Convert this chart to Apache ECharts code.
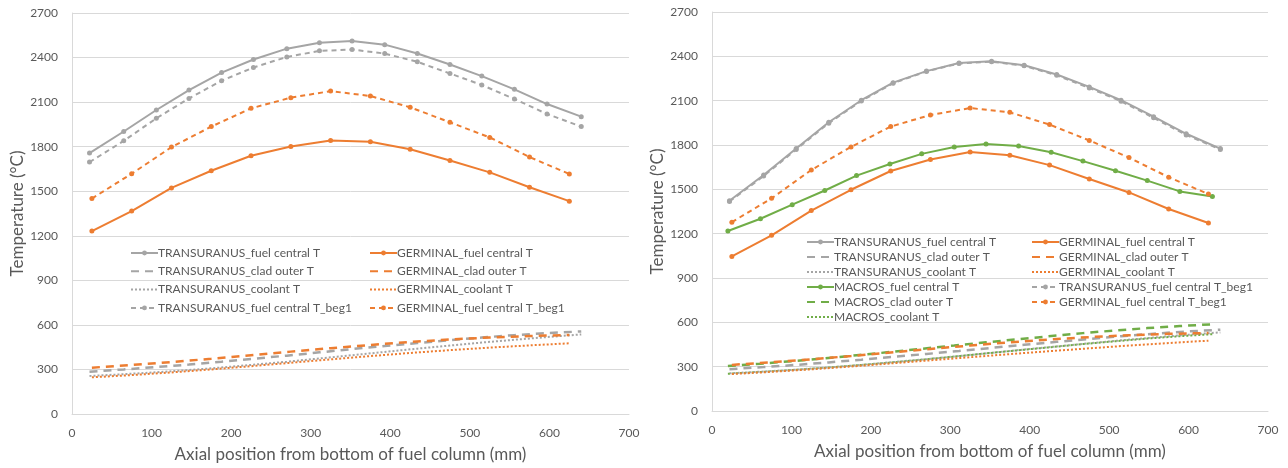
<!DOCTYPE html>
<html>
<head>
<meta charset="utf-8">
<script src="https://cdn.jsdelivr.net/npm/echarts@6/dist/echarts.min.js"></script>
<style>html,body{margin:0;padding:0;background:#fff;}#c{width:1288px;height:468px;}</style>
</head>
<body>
<div id="c"></div>
<script>
// x positions (mm)
const T_X = [22, 65, 106, 147, 188, 228, 270, 311, 352, 393, 434, 475, 515, 556, 597, 640];
const G_X = [25, 75, 125, 175, 225, 275, 325, 375, 425, 475, 525, 575, 625];
const M_X = [20, 61, 101, 142, 182, 224, 264, 305, 345, 386, 427, 467, 508, 548, 589, 630];

// Left chart values (°C)
const L_T_FUEL = [1757, 1902, 2047, 2181, 2299, 2387, 2460, 2500, 2512, 2487, 2427, 2353, 2275, 2186, 2087, 2002];
const L_T_CLAD = [285, 300, 316, 333, 352, 372, 393, 415, 437, 458, 478, 497, 515, 531, 545, 556];
const L_T_COOL = [256, 268, 281, 296, 313, 332, 352, 374, 396, 418, 440, 461, 481, 500, 518, 536];
const L_T_BEG1 = [1696, 1839, 1991, 2125, 2244, 2333, 2404, 2445, 2454, 2427, 2371, 2293, 2215, 2121, 2020, 1935];
const L_G_FUEL = [1232, 1366, 1522, 1638, 1739, 1801, 1841, 1833, 1783, 1707, 1627, 1527, 1433];
const L_G_CLAD = [312, 330, 350, 372, 396, 420, 443, 465, 485, 502, 515, 525, 532];
const L_G_COOL = [247, 262, 280, 300, 322, 345, 368, 390, 411, 430, 447, 462, 476];
const L_G_BEG1 = [1451, 1618, 1797, 1935, 2058, 2130, 2174, 2141, 2065, 1964, 1862, 1730, 1616];

// Right chart values (°C)
const R_T_FUEL = [1423, 1597, 1776, 1954, 2103, 2222, 2300, 2355, 2367, 2340, 2277, 2193, 2103, 1992, 1876, 1776];
const R_T_CLAD = [283, 297, 312, 329, 347, 366, 386, 406, 427, 448, 468, 488, 506, 523, 538, 550];
const R_T_COOL = [255, 267, 280, 295, 312, 331, 351, 372, 394, 416, 437, 458, 478, 497, 515, 532];
const R_T_BEG1 = [1418, 1590, 1770, 1948, 2098, 2218, 2298, 2352, 2364, 2336, 2272, 2186, 2096, 1984, 1868, 1770];
const R_M_FUEL = [1218, 1301, 1396, 1492, 1593, 1671, 1740, 1787, 1807, 1793, 1751, 1691, 1626, 1559, 1486, 1452];
const R_M_CLAD = [305, 320, 337, 356, 377, 399, 421, 443, 465, 486, 507, 527, 545, 561, 575, 587];
const R_M_COOL = [252, 264, 277, 292, 309, 327, 347, 368, 390, 411, 432, 453, 472, 490, 506, 520];
const R_G_FUEL = [1046, 1189, 1356, 1497, 1624, 1702, 1753, 1731, 1664, 1570, 1479, 1367, 1272];
const R_G_CLAD = [312, 330, 350, 372, 396, 420, 443, 465, 484, 500, 513, 522, 528];
const R_G_COOL = [250, 265, 282, 301, 322, 343, 364, 385, 405, 424, 443, 460, 476];
const R_G_BEG1 = [1278, 1439, 1631, 1787, 1925, 2003, 2050, 2021, 1938, 1831, 1715, 1582, 1468];

const N = {
  tf: 'TRANSURANUS_fuel central T', tc: 'TRANSURANUS_clad outer T', tk: 'TRANSURANUS_coolant T', tb: 'TRANSURANUS_fuel central T_beg1',
  gf: 'GERMINAL_fuel central T', gc: 'GERMINAL_clad outer T', gk: 'GERMINAL_coolant T', gb: 'GERMINAL_fuel central T_beg1',
  mf: 'MACROS_fuel central T', mc: 'MACROS_clad outer T', mk: 'MACROS_coolant T'
};
const NO_MARK = [N.tc, N.tk, N.gc, N.gk, N.mc, N.mk];

const GRAY = '#A5A5A5', ORANGE = '#ED7D31', GREEN = '#70AD47';
const FONT = 'Lato, "Liberation Sans", sans-serif';
const TXT = '#595959';

function ser(name, xs, ys, color, kind, g) {
  const s = {
    name: name, type: 'line', xAxisIndex: g, yAxisIndex: g,
    data: xs.map((x, i) => [x, ys[i]]),
    color: color, smooth: false, animation: false,
    lineStyle: { color: color, width: 2 },
    itemStyle: { color: color }
  };
  if (kind === 'fuel') { s.symbol = 'circle'; s.symbolSize = 5; s.lineStyle.width = 2; }
  else if (kind === 'beg1') { s.symbol = 'circle'; s.symbolSize = 5; s.lineStyle.type = [5, 4]; s.lineStyle.width = 2; }
  else if (kind === 'clad') { s.symbol = 'none'; s.showSymbol = false; s.lineStyle.type = [8, 6]; s.lineStyle.width = 2.5; }
  else { s.symbol = 'none'; s.showSymbol = false; s.lineStyle.type = [2, 2]; s.lineStyle.width = 2; }
  return s;
}

const series = [
  ser(N.tf, T_X, L_T_FUEL, GRAY, 'fuel', 0),
  ser(N.tc, T_X, L_T_CLAD, GRAY, 'clad', 0),
  ser(N.tk, T_X, L_T_COOL, GRAY, 'cool', 0),
  ser(N.tb, T_X, L_T_BEG1, GRAY, 'beg1', 0),
  ser(N.gf, G_X, L_G_FUEL, ORANGE, 'fuel', 0),
  ser(N.gc, G_X, L_G_CLAD, ORANGE, 'clad', 0),
  ser(N.gk, G_X, L_G_COOL, ORANGE, 'cool', 0),
  ser(N.gb, G_X, L_G_BEG1, ORANGE, 'beg1', 0),

  ser(N.tf, T_X, R_T_FUEL, GRAY, 'fuel', 1),
  ser(N.tc, T_X, R_T_CLAD, GRAY, 'clad', 1),
  ser(N.tk, T_X, R_T_COOL, GRAY, 'cool', 1),
  ser(N.mf, M_X, R_M_FUEL, GREEN, 'fuel', 1),
  ser(N.mc, M_X, R_M_CLAD, GREEN, 'clad', 1),
  ser(N.mk, M_X, R_M_COOL, GREEN, 'cool', 1),
  ser(N.gf, G_X, R_G_FUEL, ORANGE, 'fuel', 1),
  ser(N.gc, G_X, R_G_CLAD, ORANGE, 'clad', 1),
  ser(N.gk, G_X, R_G_COOL, ORANGE, 'cool', 1),
  ser(N.tb, T_X, R_T_BEG1, GRAY, 'beg1', 1),
  ser(N.gb, G_X, R_G_BEG1, ORANGE, 'beg1', 1)
];

function legend(names, left, top, gap) {
  return {
    data: names.map(n => NO_MARK.indexOf(n) >= 0 ? { name: n, itemStyle: { opacity: 0 } } : { name: n }),
    left: left, top: top, orient: 'vertical', itemGap: gap,
    itemWidth: 27, itemHeight: 6, padding: 0, selectedMode: false,
    textStyle: { fontSize: 12, color: TXT, fontFamily: FONT, lineHeight: 12, padding: [0, 0, 0, -5] }
  };
}

function xAx(g) {
  return {
    type: 'value', gridIndex: g, min: 0, max: 700, interval: 100,
    name: 'Axial position from bottom of fuel column (mm)', nameLocation: 'middle', nameGap: 32,
    nameTextStyle: { fontSize: 17, color: TXT, fontFamily: FONT },
    axisLine: { show: true, lineStyle: { color: '#D9D9D9' } }, axisTick: { show: false },
    axisLabel: { fontSize: 12, color: TXT, fontFamily: FONT, margin: 13, formatter: v => String(v) },
    splitLine: { show: false }
  };
}
function yAx(g) {
  return {
    type: 'value', gridIndex: g, min: 0, max: 2700, interval: 300,
    name: 'Temperature (°C)', nameLocation: 'middle', nameGap: 45, nameRotate: 90,
    nameTextStyle: { fontSize: 17, color: TXT, fontFamily: FONT },
    axisLine: { show: true, lineStyle: { color: '#D9D9D9' } }, axisTick: { show: false },
    axisLabel: { fontSize: 12, color: TXT, fontFamily: FONT, margin: 14, formatter: v => String(v) },
    splitLine: { show: true, lineStyle: { color: '#D9D9D9', width: 1 } }
  };
}

const option = {
  backgroundColor: '#fff',
  animation: false,
  grid: [
    { left: 72, top: 13, width: 557, height: 403 },
    { left: 712, top: 12, width: 556, height: 399 }
  ],
  xAxis: [xAx(0), xAx(1)],
  yAxis: [yAx(0), yAx(1)],
  legend: [
    legend([N.tf, N.tc, N.tk, N.tb], 130, 247, 6.3),
    legend([N.gf, N.gc, N.gk, N.gb], 369, 247, 6.3),
    legend([N.tf, N.tc, N.tk, N.mf, N.mc, N.mk], 806, 236, 3),
    legend([N.gf, N.gc, N.gk, N.tb, N.gb], 1031, 236, 3)
  ],
  series: series
};

const chart = echarts.init(document.getElementById('c'), null, { renderer: 'canvas' });
chart.setOption(option);
</script>
</body>
</html>
